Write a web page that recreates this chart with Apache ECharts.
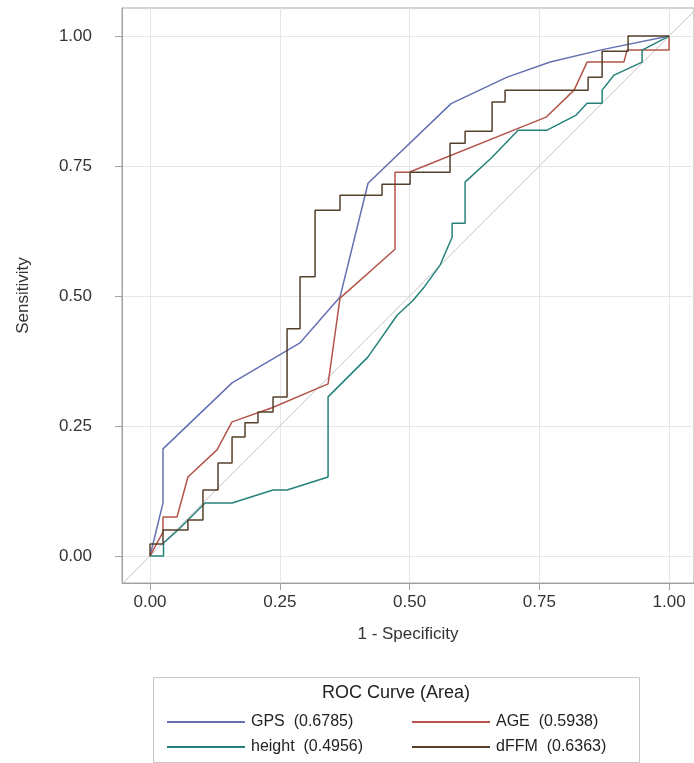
<!DOCTYPE html>
<html>
<head>
<meta charset="utf-8">
<script src="https://cdn.jsdelivr.net/npm/echarts@6.0.0/dist/echarts.min.js"></script>
<style>
  html, body { margin: 0; padding: 0; background: #fff; }
  #chart { width: 694px; height: 763px; }
</style>
</head>
<body>
<div id="chart"></div>
<script>
// ROC curves: [1 - specificity, sensitivity]
const seriesNames = ['GPS', 'AGE', 'height', 'dFFM']
const areas = ['0.6785', '0.5938', '0.4956', '0.6363']
const tickValues = [0, 0.25, 0.5, 0.75, 1]

const gps = [
  [0, 0], [0.025, 0.102], [0.025, 0.206], [0.158, 0.333], [0.289, 0.41],
  [0.366, 0.498], [0.42, 0.717], [0.58, 0.87], [0.688, 0.921],
  [0.771, 0.95], [0.867, 0.973], [1, 1],
]
const age = [
  [0, 0], [0.025, 0.046], [0.025, 0.075], [0.052, 0.075], [0.073, 0.152],
  [0.129, 0.204], [0.158, 0.258], [0.235, 0.285], [0.343, 0.331],
  [0.366, 0.496], [0.472, 0.59], [0.472, 0.738], [0.499, 0.738],
  [0.763, 0.844], [0.817, 0.896], [0.842, 0.95], [0.913, 0.95],
  [0.919, 0.973], [1, 0.973], [1, 1],
]
const height = [
  [0, 0], [0.026, 0], [0.026, 0.025], [0.054, 0.05], [0.106, 0.102],
  [0.158, 0.102], [0.237, 0.127], [0.264, 0.127], [0.343, 0.152],
  [0.343, 0.306], [0.42, 0.383], [0.476, 0.463], [0.507, 0.492],
  [0.528, 0.517], [0.559, 0.56], [0.582, 0.613], [0.582, 0.64],
  [0.607, 0.64], [0.607, 0.719], [0.659, 0.767], [0.709, 0.819],
  [0.765, 0.819], [0.821, 0.848], [0.842, 0.871], [0.871, 0.871],
  [0.871, 0.896], [0.894, 0.925], [0.948, 0.95], [0.948, 0.973], [1, 1],
]
const dffm = [
  [0, 0], [0, 0.023], [0.025, 0.023], [0.025, 0.05], [0.073, 0.05],
  [0.073, 0.069], [0.102, 0.069], [0.102, 0.127], [0.131, 0.127],
  [0.131, 0.179], [0.158, 0.179], [0.158, 0.229], [0.183, 0.229],
  [0.183, 0.256], [0.208, 0.256], [0.208, 0.277], [0.237, 0.277],
  [0.237, 0.306], [0.264, 0.306], [0.264, 0.437], [0.289, 0.437],
  [0.289, 0.537], [0.318, 0.537], [0.318, 0.665], [0.366, 0.665],
  [0.366, 0.694], [0.447, 0.694], [0.447, 0.715], [0.501, 0.715],
  [0.501, 0.738], [0.578, 0.738], [0.578, 0.794], [0.607, 0.794],
  [0.607, 0.817], [0.659, 0.817], [0.659, 0.873], [0.684, 0.873],
  [0.684, 0.896], [0.844, 0.896], [0.844, 0.921], [0.871, 0.921],
  [0.871, 0.971], [0.921, 0.971], [0.921, 1], [1, 1],
]
const chance = [[-0.1, -0.1], [1.1, 1.1]]

const curves = [gps, age, height, dffm]
const colors = ['#6470b2', '#b3554a', '#25827a', '#55402a']

const font = 'Liberation Sans, Arial, sans-serif'
const chart = echarts.init(document.getElementById('chart'))

const axisCommon = {
  type: 'value',
  axisLine: { show: true, onZero: false, lineStyle: { color: '#a0a0a0' } },
  axisTick: {
    show: true,
    length: 7,
    customValues: tickValues,
    lineStyle: { color: '#a0a0a0' },
  },
  axisLabel: {
    customValues: tickValues,
    formatter: (v) => v.toFixed(2),
    color: '#333',
    fontSize: 17,
    fontFamily: font,
  },
  splitLine: { show: true, lineStyle: { color: '#e6e6e6' } },
  nameLocation: 'middle',
  nameTextStyle: { color: '#333', fontSize: 17, fontFamily: font },
}

const legendCommon = {
  orient: 'vertical',
  top: 709,
  icon: 'rect',
  itemWidth: 78,
  itemHeight: 2,
  itemGap: 9,
  textStyle: { color: '#222', fontSize: 16, fontFamily: font, padding: [0, 0, 0, 1] },
  formatter: (name) => name + '  (' + areas[seriesNames.indexOf(name)] + ')',
}

chart.setOption({
  backgroundColor: '#fff',
  animation: false,
  grid: {
    left: 122, top: 8, width: 572, height: 575,
    outerBoundsMode: 'none',
    show: true, borderColor: '#a8a8a8', borderWidth: 1,
  },
  xAxis: {
    ...axisCommon,
    min: -0.054, max: 1.048,
    name: '1 - Specificity',
    nameGap: 43,
    axisLabel: { ...axisCommon.axisLabel, margin: 11 },
  },
  yAxis: {
    ...axisCommon,
    min: -0.052, max: 1.054,
    name: 'Sensitivity',
    nameGap: 90,
    axisLabel: { ...axisCommon.axisLabel, margin: 30 },
  },
  legend: [
    { ...legendCommon, left: 162, data: ['GPS', 'height'] },
    { ...legendCommon, left: 407, data: ['AGE', 'dFFM'] },
  ],
  graphic: [
    {
      type: 'rect',
      shape: { x: 153.5, y: 677.5, width: 486, height: 85 },
      style: { fill: 'none', stroke: '#c8c8c8', lineWidth: 1 },
    },
    {
      type: 'text',
      x: 396, y: 693,
      style: {
        text: 'ROC Curve (Area)', fill: '#222', fontSize: 18, fontFamily: font,
        align: 'center', verticalAlign: 'middle',
      },
    },
  ],
  series: [
    {
      name: 'chance',
      type: 'line',
      data: chance,
      symbol: 'none',
      silent: true,
      lineStyle: { color: '#c4c4c4', width: 1 },
      z: 1,
    },
    ...seriesNames.map((name, i) => ({
      name,
      type: 'line',
      data: curves[i],
      symbol: 'none',
      color: colors[i],
      lineStyle: { color: colors[i], width: 1.5 },
      z: 2 + i,
    })),
  ],
})
</script>
</body>
</html>
